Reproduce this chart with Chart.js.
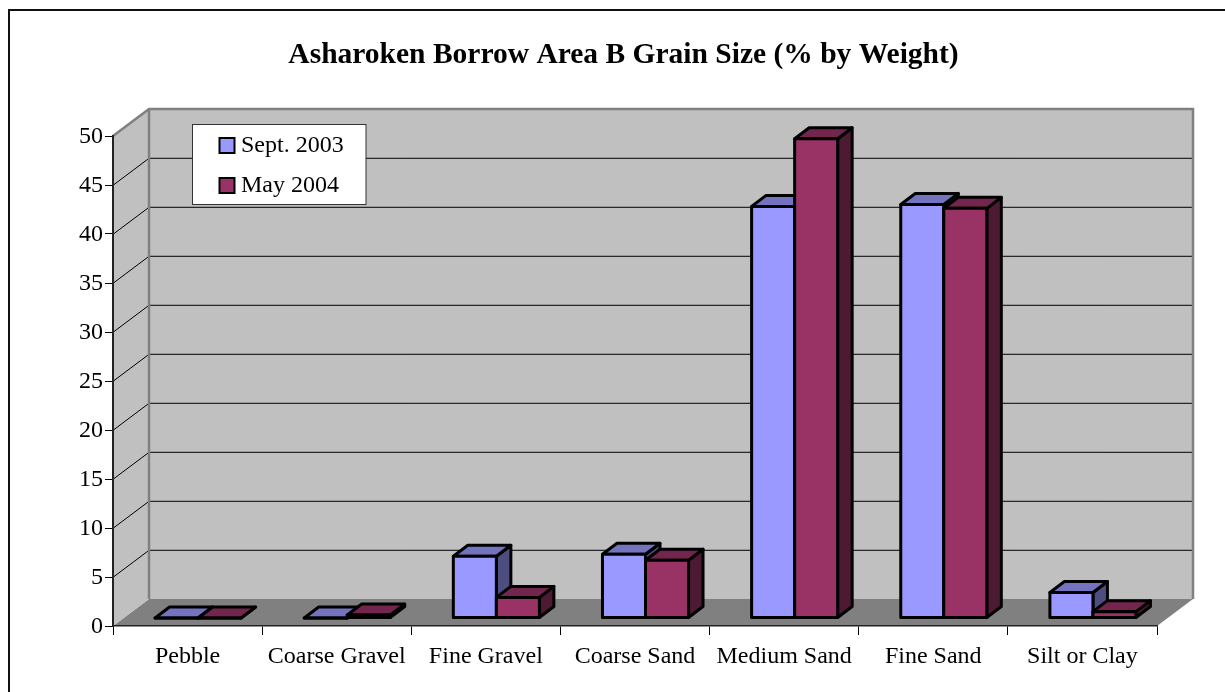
<!DOCTYPE html>
<html>
<head>
<meta charset="utf-8">
<style>
  html, body { margin: 0; padding: 0; background: #fff; overflow: hidden; }
  canvas { display: block; }
</style>
<script src="https://cdn.jsdelivr.net/npm/chart.js@4"></script>
</head>
<body>
<canvas id="grainChart" width="1225" height="692"></canvas>
<script>
const categories = ["Pebble", "Coarse Gravel", "Fine Gravel", "Coarse Sand", "Medium Sand", "Fine Sand", "Silt or Clay"];
const sept2003 = [0, 0, 6.3, 6.5, 42.0, 42.2, 2.6];
const may2004 = [0, 0.3, 2.1, 5.9, 48.9, 41.8, 0.65];

const FONT = "'Liberation Serif', 'Times New Roman', serif";

// 3D look: depth of the box, depth of a bar, where the bar stands on the floor
const BOX_DX = 36, BOX_DY = -27;
const BAR_DX = 14.5, BAR_DY = -11;
const BAR_SHIFT_X = 10.5, BAR_SHIFT_Y = -8;
const BAR_LINE = 3;

const sideColors = ["#4d4d80", "#4d1a33"];
const topColors = ["#7373bf", "#73264d"];

const poly = (ctx, pts, fill, stroke, lw) => {
  ctx.beginPath();
  pts.forEach((p, i) => (i ? ctx.lineTo(p[0], p[1]) : ctx.moveTo(p[0], p[1])));
  ctx.closePath();
  if (fill) { ctx.fillStyle = fill; ctx.fill(); }
  if (stroke) { ctx.strokeStyle = stroke; ctx.lineWidth = lw; ctx.lineJoin = "round"; ctx.stroke(); }
};

const box3d = {
  id: "box3d",
  // frame, walls, floor and gridlines
  beforeDraw(chart) {
    const { ctx, chartArea: a, scales } = chart;
    ctx.save();
    ctx.fillStyle = "#fff";
    ctx.fillRect(0, 0, chart.width, chart.height);
    // only the top and left of the frame are inside the picture
    ctx.strokeStyle = "#111";
    ctx.lineWidth = 2;
    ctx.beginPath();
    ctx.moveTo(9, chart.height);
    ctx.lineTo(9, 10);
    ctx.lineTo(chart.width, 10);
    ctx.stroke();

    const l = a.left, r = a.right, t = a.top, b = a.bottom;
    poly(ctx, [[l, b], [r, b], [r + BOX_DX, b + BOX_DY], [l + BOX_DX, b + BOX_DY]], "#808080");
    poly(ctx, [[l, b], [l + BOX_DX, b + BOX_DY], [l + BOX_DX, t + BOX_DY], [l, t]], "#c0c0c0");
    ctx.fillStyle = "#c0c0c0";
    ctx.fillRect(l + BOX_DX, t + BOX_DY, r - l, b - t);

    ctx.strokeStyle = "#000";
    ctx.lineWidth = 1;
    scales.y.ticks.forEach((tk) => {
      if (tk.value === 0 || tk.value === 50) return;
      const y = scales.y.getPixelForValue(tk.value) + 0.3;
      ctx.beginPath();
      ctx.moveTo(l, y);
      ctx.lineTo(l + BOX_DX, y + BOX_DY);
      ctx.lineTo(r + BOX_DX, y + BOX_DY);
      ctx.stroke();
    });

    // wall outlines
    ctx.strokeStyle = "#808080";
    ctx.lineWidth = 2.5;
    ctx.beginPath();
    ctx.moveTo(l, t);
    ctx.lineTo(l + BOX_DX, t + BOX_DY);
    ctx.lineTo(r + BOX_DX, t + BOX_DY);
    ctx.lineTo(r + BOX_DX, b + BOX_DY);
    ctx.moveTo(l + BOX_DX, t + BOX_DY);
    ctx.lineTo(l + BOX_DX, b + BOX_DY);
    ctx.stroke();
    ctx.restore();
  },
  // legend sits over the gridlines
  beforeDatasetsDraw(chart) {
    const { ctx, data } = chart;
    ctx.save();
    ctx.fillStyle = "#fff";
    ctx.fillRect(192.5, 124.5, 173.5, 80);
    ctx.strokeStyle = "#333";
    ctx.lineWidth = 1;
    ctx.strokeRect(192.5, 124.5, 173.5, 80);
    data.datasets.forEach((ds, i) => {
      const y = 138 + i * 40;
      ctx.fillStyle = ds.backgroundColor;
      ctx.fillRect(219.5, y, 15, 15);
      ctx.strokeStyle = "#000";
      ctx.lineWidth = 2;
      ctx.strokeRect(219.5, y, 15, 15);
      ctx.fillStyle = "#000";
      ctx.font = "24px " + FONT;
      ctx.textAlign = "left";
      ctx.textBaseline = "middle";
      ctx.fillText(ds.label, 241, y + 8);
    });
    ctx.restore();
  },
  // the right bar has to overlap the left one, so the bars are painted here in dataset order
  beforeDatasetDraw() {
    return false;
  },
  afterDatasetsDraw(chart) {
    const { ctx } = chart;
    ctx.save();
    ctx.translate(BAR_SHIFT_X, BAR_SHIFT_Y);
    chart.data.datasets.forEach((ds, i) => {
      chart.getDatasetMeta(i).data.forEach((bar) => {
        const p = bar.getProps(["x", "y", "base", "width"], true);
        const x0 = p.x - p.width / 2, x1 = p.x + p.width / 2;
        poly(ctx, [[x1, p.y], [x1 + BAR_DX, p.y + BAR_DY], [x1 + BAR_DX, p.base + BAR_DY], [x1, p.base]], sideColors[i], "#000", BAR_LINE);
        poly(ctx, [[x0, p.y], [x1, p.y], [x1 + BAR_DX, p.y + BAR_DY], [x0 + BAR_DX, p.y + BAR_DY]], topColors[i], "#000", BAR_LINE);
        poly(ctx, [[x0, p.y], [x1, p.y], [x1, p.base], [x0, p.base]], ds.backgroundColor, "#000", BAR_LINE);
      });
    });
    ctx.restore();
  }
};

new Chart(document.getElementById("grainChart"), {
  type: "bar",
  data: {
    labels: categories,
    datasets: [
      { label: "Sept. 2003", data: sept2003, backgroundColor: "#9999ff" },
      { label: "May 2004", data: may2004, backgroundColor: "#993366" }
    ]
  },
  options: {
    responsive: false,
    animation: false,
    layout: { padding: { left: 22, right: 0, top: 0, bottom: 0 } },
    datasets: {
      bar: {
        categoryPercentage: 0.577,
        barPercentage: 1
      }
    },
    plugins: {
      legend: { display: false },
      tooltip: { enabled: false },
      title: {
        display: true,
        text: "Asharoken Borrow Area B Grain Size (% by Weight)",
        color: "#000",
        font: { family: FONT, size: 29.5, weight: "bold" },
        padding: { top: 38, bottom: 62.6 }
      }
    },
    scales: {
      x: {
        afterFit(scale) { scale.height = 66; scale.paddingRight = 68; },
        grid: { drawOnChartArea: false, color: "#000", tickLength: 9, lineWidth: 1 },
        border: { color: "#222", width: 1.5 },
        ticks: { color: "#000", font: { family: FONT, size: 24 }, padding: 7, maxRotation: 0, autoSkip: false }
      },
      y: {
        min: 0,
        max: 50,
        afterFit(scale) { scale.width = 91; },
        grid: { drawOnChartArea: false, color: "#000", tickLength: 8, lineWidth: 1 },
        border: { color: "#222", width: 2 },
        ticks: { color: "#000", stepSize: 5, font: { family: FONT, size: 24 }, padding: 2, labelOffset: 1 }
      }
    }
  },
  plugins: [box3d]
});
</script>
</body>
</html>
